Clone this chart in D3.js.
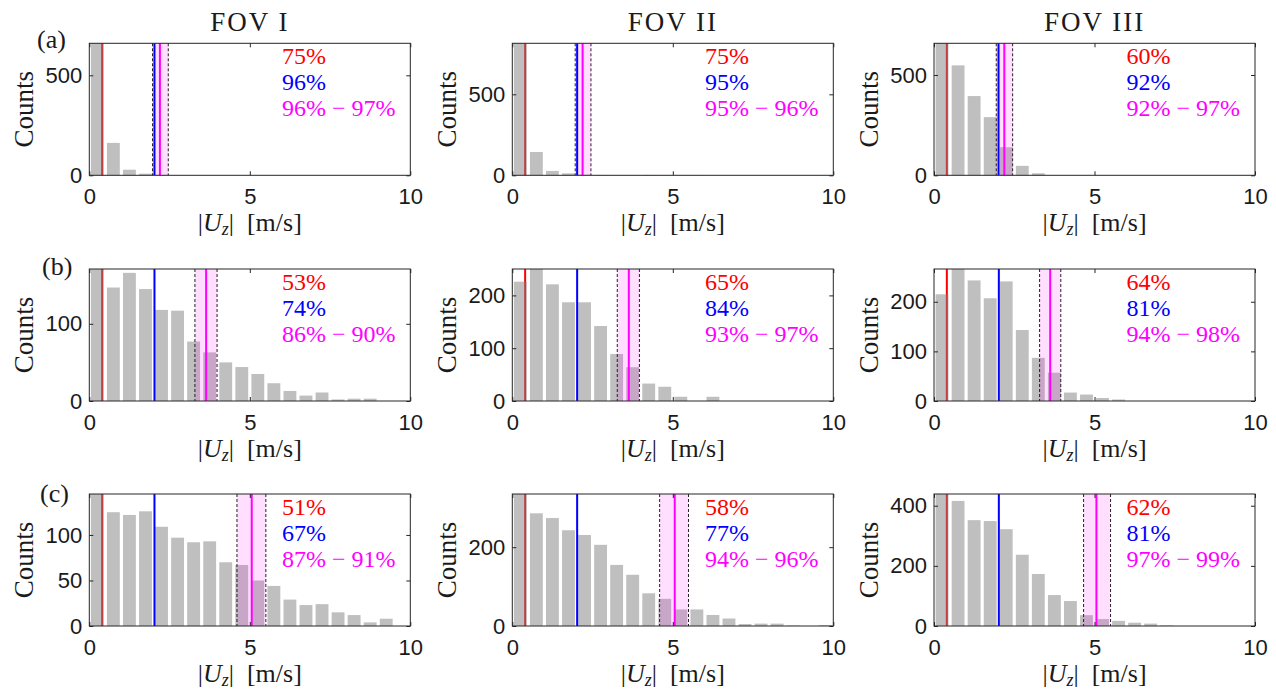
<!DOCTYPE html>
<html>
<head>
<meta charset="utf-8">
<script src="https://cdn.jsdelivr.net/npm/d3@7"></script>
<style>
body { margin: 0; background: #fff; }
</style>
</head>
<body>
<svg></svg>
<script>
// histogram counts, 20 bins of 0.5 m/s from 0 to 10
var countsA1 = [1400, 162, 28, 8, 2, 0, 0, 0, 0, 0, 0, 0, 0, 0, 0, 0, 0, 0, 0, 0];
var countsA2 = [1500, 144, 27, 12, 3, 2, 1, 1, 2, 1, 1, 1, 0, 0, 0, 0, 0, 0, 0, 0];
var countsA3 = [1200, 548, 395, 290, 140, 47, 10, 0, 0, 0, 0, 0, 0, 0, 0, 0, 0, 0, 0, 0];
var countsB1 = [190, 147, 166, 145, 118, 117, 77, 63, 50, 44, 35, 23, 13, 7, 11, 2, 3, 3, 0, 0];
var countsB2 = [226, 260, 221, 187, 187, 142, 89, 64, 33, 27, 8, 0, 8, 0, 0, 0, 0, 0, 0, 0];
var countsB3 = [215, 280, 243, 207, 241, 143, 87, 57, 17, 13, 6, 3, 0, 0, 0, 0, 0, 0, 0, 0];
var countsC1 = [160, 125, 122, 126, 109, 97, 92, 93, 70, 67, 50, 44, 29, 23, 24, 15, 12, 4, 8, 0];
var countsC2 = [400, 286, 274, 243, 231, 206, 155, 130, 83, 69, 42, 42, 28, 19, 5, 6, 6, 1, 0, 2];
var countsC3 = [500, 416, 352, 349, 322, 237, 173, 103, 83, 36, 23, 17, 11, 8, 2, 0, 0, 0, 0, 0];

var binWidth = 0.5;
var fovTitles = ["FOV I", "FOV II", "FOV III"];
var rowLabels = ["(a)", "(b)", "(c)"];

// y-axis limits and ticks per row / column
var yMaxA = [660, 815, 658];
var yMaxB = [171, 250, 266];
var yMaxC = [145, 335, 439];
var yTicksA = [[0, 500], [0, 500], [0, 500]];
var yTicksB = [[0, 100], [0, 100, 200], [0, 100, 200]];
var yTicksC = [[0, 50, 100], [0, 200], [0, 200, 400]];
var xTicks = [0, 5, 10];

// vertical markers
var redX = [[0.4, 0.4, 0.4], [0.4, 0.4, 0.4], [0.4, 0.4, 0.4]];
var blueX = [[2.03, 2.02, 2.01], [2.03, 2.02, 2.02], [2.03, 2.02, 2.02]];
var magentaX = [[2.2, 2.19, 2.19], [3.64, 3.63, 3.62], [5.06, 5.06, 5.06]];
var bandLo = [[1.97, 1.96, 1.94], [3.29, 3.27, 3.29], [4.6, 4.59, 4.66]];
var bandHi = [[2.46, 2.45, 2.45], [3.98, 3.96, 3.95], [5.5, 5.49, 5.5]];

// percentage annotations
var redText = [["75%", "75%", "60%"], ["53%", "65%", "64%"], ["51%", "58%", "62%"]];
var blueText = [["96%", "95%", "92%"], ["74%", "84%", "81%"], ["67%", "77%", "81%"]];
var magentaText = [["96% \u2212 97%", "95% \u2212 96%", "92% \u2212 97%"],
                   ["86% \u2212 90%", "93% \u2212 97%", "94% \u2212 98%"],
                   ["87% \u2212 91%", "94% \u2212 96%", "97% \u2212 99%"]];

var allCounts = [[countsA1, countsA2, countsA3], [countsB1, countsB2, countsB3], [countsC1, countsC2, countsC3]];
var allYMax = [yMaxA, yMaxB, yMaxC];
var allYTicks = [yTicksA, yTicksB, yTicksC];

var width = 1276;
var height = 694;
var colLeft = [89.3, 512.3, 934];
var rowTop = [43.3, 269, 494];
var pw = 321;
var ph = 132;
var axisColor = "#262626";
var serif = "Liberation Serif, Times New Roman, serif";
var sans = "Liberation Sans, Arial, sans-serif";

var svg = d3.select("svg")
            .attr("width", width)
            .attr("height", height);

var drawPanel = function(r, c) {
  var counts = allCounts[r][c];
  var g = svg.append("g")
             .attr("transform", "translate(" + colLeft[c] + "," + rowTop[r] + ")");

  var xScale = d3.scaleLinear().domain([0, 10]).range([0, pw]);
  var yScale = d3.scaleLinear().domain([0, allYMax[r][c]]).range([ph, 0]).clamp(true);

  // red line sits under the translucent bars
  g.append("line")
   .attr("x1", xScale(redX[r][c])).attr("x2", xScale(redX[r][c]))
   .attr("y1", 0).attr("y2", ph)
   .attr("stroke", "#ff0000").attr("stroke-width", 2);

  g.selectAll("rect.bar")
   .data(counts)
   .enter()
   .append("rect")
   .attr("class", "bar")
   .attr("x", function(d, i) { return xScale(i * binWidth) + 1.6; })
   .attr("width", function(d, i) { return xScale((i + 1) * binWidth) - xScale(i * binWidth) - 3.2; })
   .attr("y", function(d) { return yScale(d); })
   .attr("height", function(d) { return ph - yScale(d); })
   .attr("fill", "#808080")
   .attr("fill-opacity", 0.5);

  // uncertainty band
  g.append("rect")
   .attr("x", xScale(bandLo[r][c]))
   .attr("width", xScale(bandHi[r][c]) - xScale(bandLo[r][c]))
   .attr("y", 0).attr("height", ph)
   .attr("fill", "#ff00ff").attr("fill-opacity", 0.13);

  [bandLo[r][c], bandHi[r][c]].forEach(function(v) {
    g.append("line")
     .attr("x1", xScale(v)).attr("x2", xScale(v))
     .attr("y1", 0).attr("y2", ph)
     .attr("stroke", "#222").attr("stroke-width", 1)
     .attr("stroke-dasharray", "3,2");
  });

  g.append("line")
   .attr("x1", xScale(blueX[r][c])).attr("x2", xScale(blueX[r][c]))
   .attr("y1", 0).attr("y2", ph)
   .attr("stroke", "#0000ff").attr("stroke-width", 2);

  g.append("line")
   .attr("x1", xScale(magentaX[r][c])).attr("x2", xScale(magentaX[r][c]))
   .attr("y1", 0).attr("y2", ph)
   .attr("stroke", "#ff00ff").attr("stroke-width", 2);

  // axes (ticks point inward, box on)
  var xAxis = g.append("g")
               .attr("transform", "translate(0," + ph + ")")
               .call(d3.axisBottom(xScale).tickValues(xTicks).tickSizeInner(-4).tickSizeOuter(0).tickPadding(13));
  var yAxis = g.append("g")
               .call(d3.axisLeft(yScale).tickValues(allYTicks[r][c]).tickSizeInner(-4).tickSizeOuter(0).tickPadding(7));
  g.append("g")
   .call(d3.axisTop(xScale).tickValues(xTicks).tickSizeInner(-4).tickSizeOuter(0).tickFormat(""));
  g.append("g")
   .attr("transform", "translate(" + pw + ",0)")
   .call(d3.axisRight(yScale).tickValues(allYTicks[r][c]).tickSizeInner(-4).tickSizeOuter(0).tickFormat(""));

  g.selectAll(".domain").remove();
  g.selectAll(".tick line").attr("stroke", axisColor);
  [xAxis, yAxis].forEach(function(a) {
    a.selectAll("text")
     .attr("font-family", sans)
     .attr("font-size", 22)
     .attr("fill", "#1a1a1a");
  });

  g.append("rect")
   .attr("x", 0).attr("y", 0)
   .attr("width", pw).attr("height", ph)
   .attr("fill", "none")
   .attr("stroke", axisColor).attr("stroke-width", 1);

  // percentage labels
  var tx = xScale(6.0);
  var labels = [[redText[r][c], "#ff0000", 20.5], [blueText[r][c], "#0000ff", 47], [magentaText[r][c], "#ff00ff", 73]];
  labels.forEach(function(l) {
    g.append("text")
     .attr("x", tx).attr("y", l[2])
     .attr("font-family", serif).attr("font-size", 24)
     .attr("fill", l[1])
     .text(l[0]);
  });

  // y label
  g.append("text")
   .attr("transform", "translate(-56," + (ph / 2) + ") rotate(-90)")
   .attr("text-anchor", "middle")
   .attr("font-family", serif).attr("font-size", 27)
   .attr("fill", "#1a1a1a")
   .text("Counts");

  // x label |U_z| [m/s]
  var xl = g.append("text")
            .attr("x", pw / 2).attr("y", ph + 56)
            .attr("text-anchor", "middle")
            .attr("font-family", serif).attr("font-size", 26)
            .attr("fill", "#1a1a1a");
  xl.append("tspan").text("|");
  xl.append("tspan").attr("font-style", "italic").text("U");
  xl.append("tspan").attr("font-style", "italic").attr("font-size", 18).attr("dy", 4).text("z");
  xl.append("tspan").attr("dy", -4).text("|\u2002[m/s]");
};

for (var r = 0; r < 3; r++) {
  for (var c = 0; c < 3; c++) {
    drawPanel(r, c);
  }
}

// column titles
fovTitles.forEach(function(t, c) {
  svg.append("text")
     .attr("x", colLeft[c] + pw / 2).attr("y", 31)
     .attr("text-anchor", "middle")
     .attr("font-family", serif).attr("font-size", 27)
     .attr("letter-spacing", 2)
     .attr("fill", "#1a1a1a")
     .text(t);
});

// row labels
var rowLabelX = [37, 42, 40];
var rowLabelY = [48, 275, 502];
rowLabels.forEach(function(t, r) {
  svg.append("text")
     .attr("x", rowLabelX[r]).attr("y", rowLabelY[r])
     .attr("font-family", serif).attr("font-size", 26)
     .attr("fill", "#1a1a1a")
     .text(t);
});
</script>
</body>
</html>
